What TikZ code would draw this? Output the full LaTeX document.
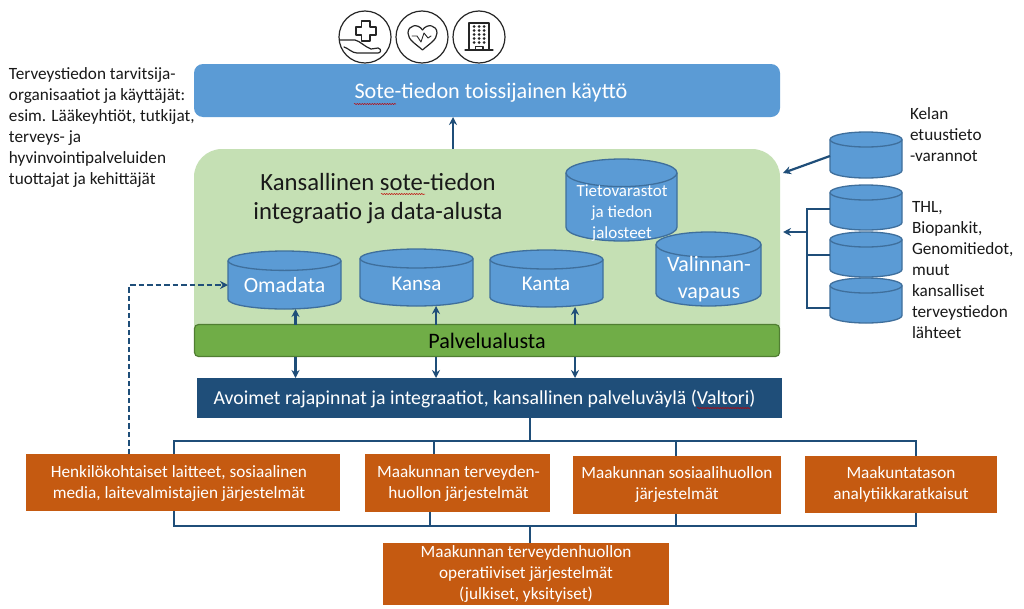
\documentclass[tikz,border=0pt]{standalone}
\usepackage{fontspec}
\setmainfont{Carlito}
\usetikzlibrary{arrows.meta,decorations.pathmorphing,calc}
\definecolor{cylfill}{HTML}{5B9BD5}
\definecolor{cyledge}{HTML}{3F6F9C}
\definecolor{panelgreen}{HTML}{C5E0B4}
\definecolor{barGreen}{HTML}{70AD47}
\definecolor{barGreenEdge}{HTML}{507E32}
\definecolor{navy}{HTML}{1F4E79}
\definecolor{rust}{HTML}{C55A11}
\definecolor{iconink}{HTML}{262626}
\tikzset{
  x=1pt,y=-1pt,
  cylshape/.style={fill=cylfill,draw=cyledge,line width=1.3pt},
  blockbox/.style={inner sep=0pt,outer sep=0pt,align=center,text=white},
  rustbox/.style={blockbox,fill=rust,font=\fontsize{17.2}{21}\selectfont},
  link/.style={draw=navy,line width=2.2pt},
  arrowlink/.style={link,-{Stealth[length=8pt,width=8pt]}},
  sidetext/.style={inner sep=0pt,outer sep=0pt,align=left,anchor=north west,text=black!90,font=\fontsize{17.2}{21}\selectfont},
  squiggle/.style={draw=red!75!black,line width=0.5pt,decorate,decoration={snake,amplitude=0.6pt,segment length=2.5pt}},
  iconring/.style={circle,draw=iconink,line width=1.2pt,minimum size=52pt,inner sep=0pt},
  iconline/.style={draw=iconink,line width=1.2pt,line join=round,line cap=round},
}
% #1 name, #2 x1, #3 y1, #4 x2, #5 y2, #6 ry
\newcommand{\cylinderat}[6]{%
  \pgfmathsetmacro\cxm{(#2+#4)/2}%
  \pgfmathsetmacro\crx{(#4-#2)/2}%
  \pgfmathsetmacro\ckx{0.5523*\crx}%
  \pgfmathsetmacro\cky{0.5523*#6}%
  \pgfmathsetmacro\cyt{#3+#6}%
  \pgfmathsetmacro\cyb{#5-#6}%
  \draw[cylshape] (#2,\cyt) -- (#2,\cyb)
    .. controls (#2,\cyb+\cky) and (\cxm-\ckx,#5) .. (\cxm,#5)
    .. controls (\cxm+\ckx,#5) and (#4,\cyb+\cky) .. (#4,\cyb)
    -- (#4,\cyt)
    .. controls (#4,\cyt-\cky) and (\cxm+\ckx,#3) .. (\cxm,#3)
    .. controls (\cxm-\ckx,#3) and (#2,\cyt-\cky) .. (#2,\cyt) -- cycle;
  \draw[cylshape,fill=none] (#2,\cyt)
    .. controls (#2,\cyt+\cky) and (\cxm-\ckx,\cyt+#6) .. (\cxm,\cyt+#6)
    .. controls (\cxm+\ckx,\cyt+#6) and (#4,\cyt+\cky) .. (#4,\cyt);
  \node[inner sep=0pt,outer sep=0pt,minimum width=#4-#2,minimum height=#5-#3] (#1) at (\cxm,{(#3+#5)/2}) {};%
}
\begin{document}
\begin{tikzpicture}
\useasboundingbox (0,0) rectangle (1024,608);
\fill[white] (0,0) rectangle (1024,608);

% panels
\node[rectangle,rounded corners=28pt,fill=panelgreen,minimum width=586pt,minimum height=206pt,inner sep=0pt,outer sep=0pt] (panel) at (487,252) {};
\node[blockbox,rounded corners=9pt,fill=cylfill,minimum width=586pt,minimum height=53pt] (sote) at (487,90.5) {};
\node[text=white,inner sep=0pt,font=\fontsize{22.2}{25}\selectfont] (sotetext) at (491,93) {Sote-tiedon toissijainen käyttö};
\node[inner sep=0pt,align=center,text=black!90,font=\fontsize{24.7}{29}\selectfont] (paneltitle) at (378,199) {Kansallinen sote-tiedon\\integraatio ja data-alusta};

% cylinders inside panel
\cylinderat{omadata}{228}{251}{341}{309}{9.7}
\cylinderat{kansa}{360}{249}{473}{306}{9.5}
\cylinderat{kanta}{490}{250}{603}{307}{9.5}
\cylinderat{tieto}{566}{159}{677}{241}{13.8}
\node[text=white,align=center,inner sep=0pt,font=\fontsize{17}{20.7}\selectfont] (tietotext) at (622,213) {Tietovarastot\\ja tiedon\\jalosteet};
\cylinderat{valinnan}{656}{232}{761}{306}{12.5}
\node[text=white,font=\fontsize{21.8}{24}\selectfont,inner sep=0pt] (omadatatext) at (284.5,285) {Omadata};
\node[text=white,font=\fontsize{21}{24}\selectfont,inner sep=0pt] (kansatext) at (416.5,283.5) {Kansa};
\node[text=white,font=\fontsize{21}{24}\selectfont,inner sep=0pt] (kantatext) at (546,284) {Kanta};
\node[text=white,align=center,inner sep=0pt,font=\fontsize{22}{27}\selectfont] (valinnantext) at (709,279) {Valinnan-\\vapaus};

% bars
\node[rectangle,rounded corners=4pt,fill=barGreen,draw=barGreenEdge,line width=1.2pt,minimum width=585pt,minimum height=32pt,inner sep=0pt,outer sep=0pt,text=black,font=\fontsize{22.1}{24}\selectfont] (palvelu) at (487,340.5) {Palvelualusta};
\node[blockbox,fill=navy,minimum width=585pt,minimum height=40pt] (avoimet) at (489.5,398) {};
\node[text=white,inner sep=0pt,font=\fontsize{19.8}{22}\selectfont] (avoimettext) at (484.5,399) {Avoimet rajapinnat ja integraatiot, kansallinen palveluväylä (Valtori)};

% orange boxes
\node[rustbox,minimum width=314pt,minimum height=57pt] (henk) at (183,482.5) {};
\node[text=white,align=center,inner sep=0pt,font=\fontsize{17.2}{21}\selectfont] (henktext) at (179,483) {Henkilökohtaiset laitteet, sosiaalinen\\media, laitevalmistajien järjestelmät};
\node[rustbox,minimum width=185pt,minimum height=58pt] (tervh) at (457.5,483) {};
\node[text=white,align=center,inner sep=0pt,font=\fontsize{17.2}{21}\selectfont] (tervhtext) at (458.5,483) {Maakunnan terveyden-\\huollon järjestelmät};
\node[rustbox,minimum width=208pt,minimum height=58pt] (sosh) at (677,484.5) {Maakunnan sosiaalihuollon\\järjestelmät};
\node[rustbox,minimum width=192pt,minimum height=57pt] (analyt) at (901,484) {Maakuntatason\\analytiikkaratkaisut};
\node[rustbox,minimum width=286pt,minimum height=62pt] (oper) at (526,573.5) {Maakunnan terveydenhuollon\\operatiiviset järjestelmät\\(julkiset, yksityiset)};

% bus coordinates
\coordinate (upperbus) at (530,441);
\coordinate (lowerbus) at (530,526);
\coordinate (colA) at (174,441);
\coordinate (colB) at (434,441);
\coordinate (colBl) at (430,526);
\coordinate (colC) at (676,441);
\coordinate (colD) at (916,441);
\coordinate (railR) at (807,232);
\coordinate (dashturn) at (129,285);
\coordinate (sotein) at (453,149);

% upper bus
\draw[link] (avoimet.south -| upperbus) -- (upperbus);
\draw[link,line join=miter] (henk.north -| colA) -- (colA) -- (colD) -- (analyt.north -| colD);
\draw[link] (tervh.north -| colB) -- (colB);
\draw[link] (sosh.north -| colC) -- (colC);
% lower bus
\draw[link] (henk.south -| colA) -- (colA |- lowerbus) -- (colD |- lowerbus) -- (analyt.south -| colD);
\draw[link] (tervh.south -| colBl) -- (colBl);
\draw[link] (sosh.south -| colC) -- (colC |- lowerbus);
\draw[link] (lowerbus) -- (oper.north -| lowerbus);

% arrows
\draw[arrowlink] (sotein) -- (sote.south -| sotein);
\coordinate (colOma) at (295.5,0);
\coordinate (colKan) at (436,0);
\coordinate (colKnt) at (575,0);
\draw[arrowlink] (palvelu.north -| colOma) -- (omadata.south -| colOma);
\draw[arrowlink] (palvelu.north -| colKan) -- (kansa.south -| colKan);
\draw[arrowlink] (palvelu.north -| colKnt) -- (kanta.south -| colKnt);
\draw[arrowlink] (palvelu.south -| colOma) -- (avoimet.north -| colOma);
\draw[arrowlink] (palvelu.south -| colKan) -- (avoimet.north -| colKan);
\draw[arrowlink] (palvelu.south -| colKnt) -- (avoimet.north -| colKnt);
\draw[arrowlink,dash pattern=on 5.5pt off 3pt] (henk.north -| dashturn) -- (dashturn) -- (omadata.west |- dashturn);

% right cylinders
\cylinderat{kela}{830}{132}{902}{178}{7.5}
\cylinderat{thl}{830}{185}{902}{230}{7.5}
\cylinderat{biop}{830}{232}{902}{277}{7.5}
\cylinderat{muut}{830}{278}{902}{323}{7.5}
\coordinate (kelahit) at (783,173);
\coordinate (railtop) at (807,209);
\coordinate (railmid) at (807,255);
\coordinate (railbot) at (807,308);
\coordinate (railhit) at (783,232);
\draw[arrowlink] (kela.west) ++(0,1) -- (kelahit);
\draw[link] (thl.west |- railtop) -- (railtop) -- (railbot) -- (muut.west |- railbot);
\draw[link] (biop.west |- railmid) -- (railmid);
\draw[arrowlink] (railR) -- (railhit);

% texts
\node[sidetext] (leftnote) at (9,67.5) {Terveystiedon tarvitsija-\\organisaatiot ja käyttäjät:\\esim. Lääkeyhtiöt, tutkijat,\\terveys- ja\\hyvinvointipalveluiden\\tuottajat ja kehittäjät};
\node[sidetext] (kelanote) at (910,107.5) {Kelan\\etuustieto\\-varannot};
\node[sidetext] (thlnote) at (912,201) {THL,\\Biopankit,\\Genomitiedot,\\muut\\kansalliset\\terveystiedon\\lähteet};

% spell-check squiggles
\draw[squiggle] (354,104) -- (396,104);
\draw[squiggle] (381,194) -- (425,194);
\draw[squiggle] (697,408) -- (750,408);

% icons
\node[iconring] (iconhand) at (365,37) {};
\node[iconring] (iconheart) at (422,37) {};
\node[iconring] (iconbuilding) at (479,37) {};
\draw[iconline] (361.5,21) -- (370,21) -- (370,27) -- (376,27) -- (376,35) -- (370,35) -- (370,41) -- (361.5,41) -- (361.5,35) -- (356,35) -- (356,27) -- (361.5,27) -- cycle;
\draw[iconline] (340,40) -- (355,40) .. controls (360,41) and (365,47) .. (371,49) -- (378,48) .. controls (382,49) and (381,53) .. (378,53) -- (357,53) .. controls (352,53) and (348,48) .. (344,47);
\draw[iconline] (422.5,50) .. controls (416,44) and (408,40) .. (408,33) .. controls (408,25) and (418,23) .. (422.5,30) .. controls (427,23) and (437,25) .. (437,33) .. controls (437,40) and (429,44) .. (422.5,50) -- cycle;
\draw[iconline,line width=0.9pt] (412,36) -- (417,36) -- (421,42) -- (424,33) -- (428,38) -- (431,36);
\draw[iconline] (469,49) -- (469,23) -- (489,23) -- (489,49);
\draw[iconline] (465,50) -- (493,50);
\draw[iconline] (475.5,50) -- (475.5,46.5) -- (483,46.5) -- (483,50);
\foreach \rowy in {26.5,30.5,34.5,38.5,42.5}{
  \foreach \colx in {474,479,484}{
    \fill[iconink] (\colx,\rowy) circle (1.5pt);
  }
}
\end{tikzpicture}
\end{document}
